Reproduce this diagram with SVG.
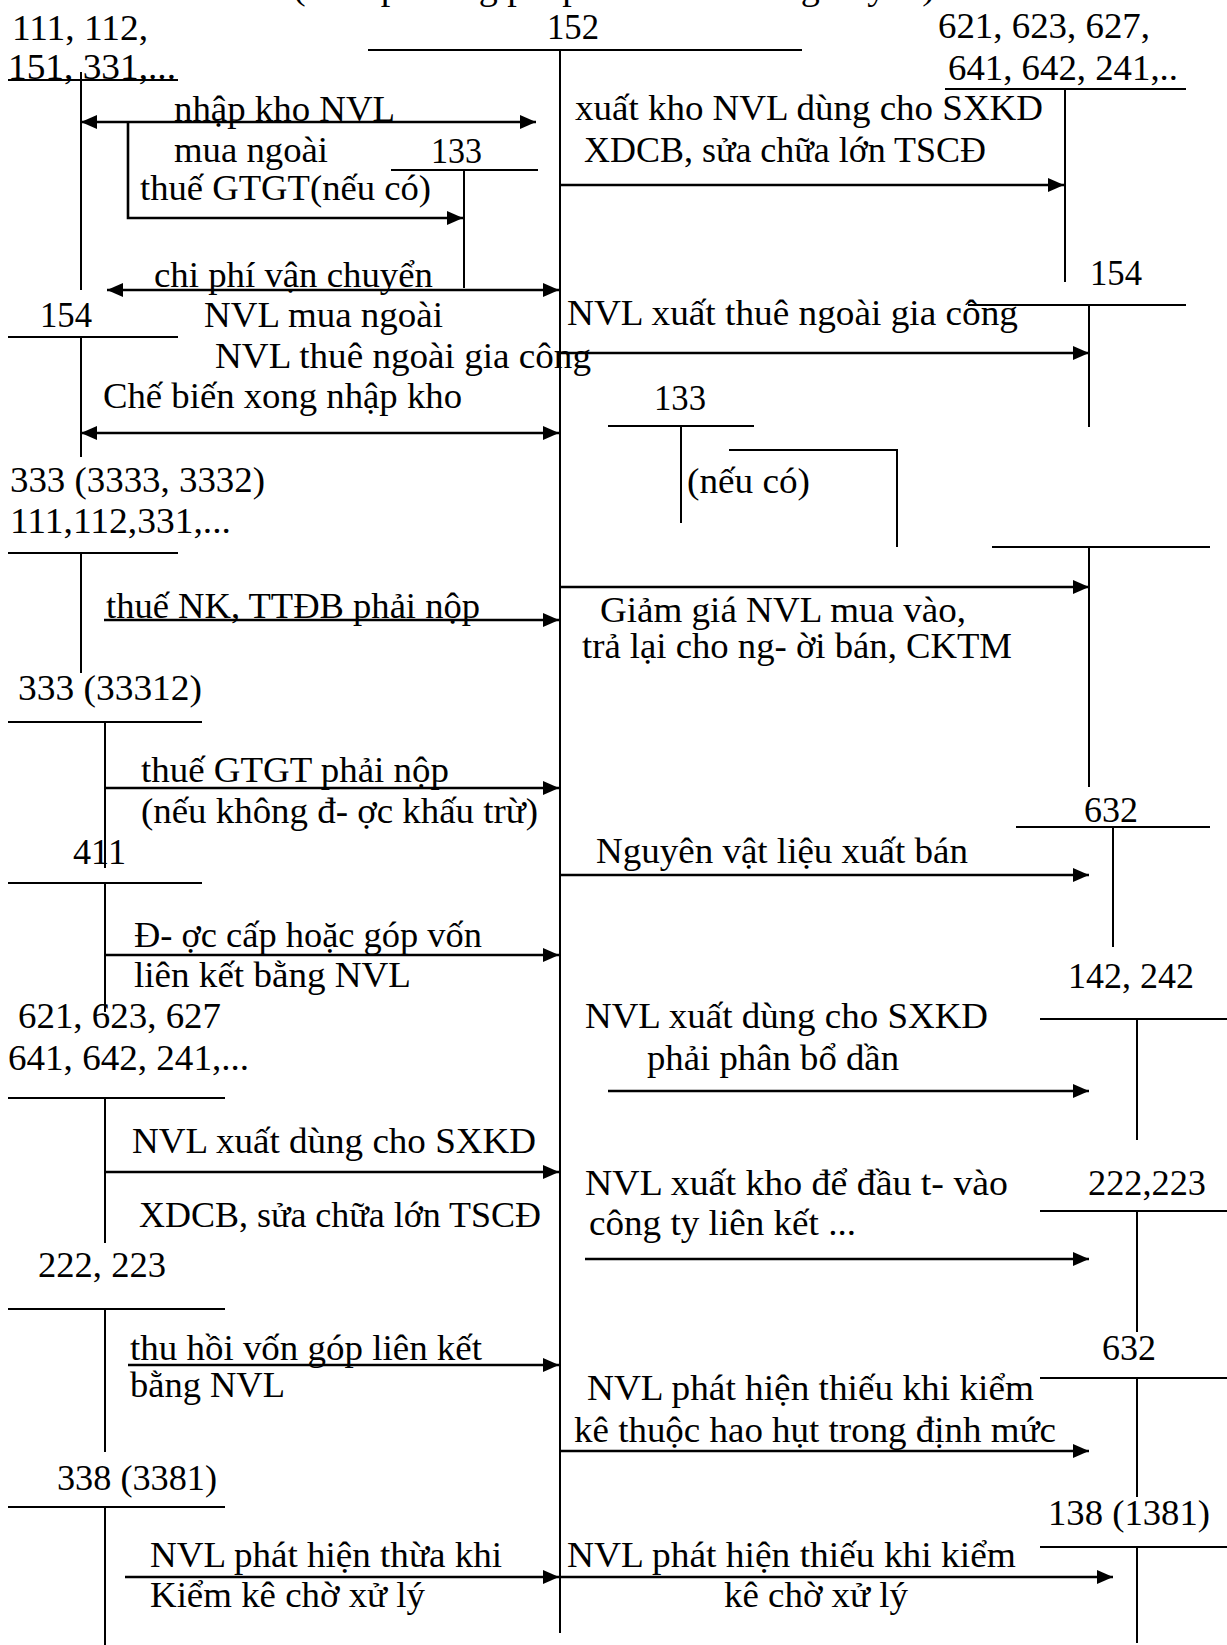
<svg xmlns="http://www.w3.org/2000/svg" width="1227" height="1645" viewBox="0 0 1227 1645">
<defs>
<style>
text{font-family:"Liberation Serif","Times New Roman",serif;font-size:36px;fill:#000}
.t{stroke:#000;stroke-width:2;fill:none}
.a{stroke:#000;stroke-width:2.6;fill:none;marker-end:url(#ah)}
.d{stroke:#000;stroke-width:2.6;fill:none;marker-end:url(#ah);marker-start:url(#ah)}
</style>
<marker id="ah" markerUnits="userSpaceOnUse" markerWidth="16" markerHeight="14" refX="16" refY="7" orient="auto-start-reverse"><path d="M0,0 L16,7 L0,14 Z" fill="#000"/></marker>
</defs>
<rect x="0" y="0" width="1227" height="1645" fill="#fff"/>
<text x="293" y="-1" textLength="642" lengthAdjust="spacingAndGlyphs">(theo phương pháp kê khai thường xuyên)</text>

<g id="acc-111-112">
<text x="12" y="40" textLength="136" lengthAdjust="spacingAndGlyphs">111, 112,</text>
<text x="8" y="79" textLength="168" lengthAdjust="spacingAndGlyphs">151, 331,...</text>
<path class="t" d="M8,80 H178 M81,72 V290"/>
</g>
<g id="acc-154-left">
<text x="40" y="327" textLength="52" lengthAdjust="spacingAndGlyphs">154</text>
<path class="t" d="M8,337 H178 M81,337 V457"/>
</g>
<g id="acc-333-3333">
<text x="10" y="492" textLength="255" lengthAdjust="spacingAndGlyphs">333 (3333, 3332)</text>
<text x="10" y="533" textLength="221" lengthAdjust="spacingAndGlyphs">111,112,331,...</text>
<path class="t" d="M8,553 H178 M81,553 V673"/>
</g>
<g id="acc-333-33312">
<text x="18" y="700" textLength="184" lengthAdjust="spacingAndGlyphs">333 (33312)</text>
<path class="t" d="M8,722 H202 M105,722 V868"/>
</g>
<g id="acc-411">
<text x="73" y="864" textLength="53" lengthAdjust="spacingAndGlyphs">411</text>
<path class="t" d="M8,883 H202 M105,883 V1012"/>
</g>
<g id="acc-621-left">
<text x="18" y="1028" textLength="203" lengthAdjust="spacingAndGlyphs">621, 623, 627</text>
<text x="8" y="1070" textLength="241" lengthAdjust="spacingAndGlyphs">641, 642, 241,...</text>
<path class="t" d="M8,1098 H225 M105,1098 V1243"/>
</g>
<g id="acc-222-left">
<text x="38" y="1277" textLength="128" lengthAdjust="spacingAndGlyphs">222, 223</text>
<path class="t" d="M8,1309 H225 M105,1309 V1452"/>
</g>
<g id="acc-338">
<text x="57" y="1490" textLength="160" lengthAdjust="spacingAndGlyphs">338 (3381)</text>
<path class="t" d="M8,1507 H225 M105,1507 V1645"/>
</g>

<g id="acc-152">
<text x="547" y="39" textLength="52" lengthAdjust="spacingAndGlyphs">152</text>
<path class="t" d="M368,50 H802 M560,50 V1633"/>
</g>
<g id="acc-133-a">
<text x="431" y="163" textLength="51" lengthAdjust="spacingAndGlyphs">133</text>
<path class="t" d="M391,170 H538 M464,170 V288"/>
</g>
<g id="acc-133-b">
<text x="654" y="410" textLength="52" lengthAdjust="spacingAndGlyphs">133</text>
<text x="687" y="493" textLength="123" lengthAdjust="spacingAndGlyphs">(nếu có)</text>
<path class="t" d="M608,426 H754 M681,426 V523 M729,450 H897 V547"/>
</g>

<g id="acc-621-right">
<text x="938" y="38" textLength="212" lengthAdjust="spacingAndGlyphs">621, 623, 627,</text>
<text x="948" y="80" textLength="230" lengthAdjust="spacingAndGlyphs">641, 642, 241,..</text>
<path class="t" d="M945,89 H1186 M1065,89 V282"/>
</g>
<g id="acc-154-right">
<text x="1090" y="285" textLength="52" lengthAdjust="spacingAndGlyphs">154</text>
<path class="t" d="M968,305 H1186 M1089,305 V427"/>
</g>
<g id="acc-331-right">
<path class="t" d="M992,547 H1210 M1089,547 V787"/>
</g>
<g id="acc-632-a">
<text x="1084" y="822" textLength="54" lengthAdjust="spacingAndGlyphs">632</text>
<path class="t" d="M1016,827 H1210 M1113,827 V947"/>
</g>
<g id="acc-142-242">
<text x="1068" y="988" textLength="126" lengthAdjust="spacingAndGlyphs">142, 242</text>
<path class="t" d="M1040,1019 H1227 M1137,1019 V1140"/>
</g>
<g id="acc-222-right">
<text x="1088" y="1195" textLength="118" lengthAdjust="spacingAndGlyphs">222,223</text>
<path class="t" d="M1040,1211 H1227 M1137,1211 V1332"/>
</g>
<g id="acc-632-b">
<text x="1102" y="1360" textLength="54" lengthAdjust="spacingAndGlyphs">632</text>
<path class="t" d="M1040,1378 H1227 M1137,1378 V1497"/>
</g>
<g id="acc-138">
<text x="1048" y="1525" textLength="162" lengthAdjust="spacingAndGlyphs">138 (1381)</text>
<path class="t" d="M1040,1547 H1227 M1137,1547 V1643"/>
</g>

<g id="connectors">
<path class="d" d="M81,122 H536"/>
<path class="a" d="M128,122 V218 H463"/>
<path class="d" d="M107,290 H559"/>
<path class="a" d="M560,185 H1064"/>
<path class="a" d="M561,353 H1089"/>
<path class="d" d="M81,433 H559"/>
<path class="a" d="M104,620 H559"/>
<path class="a" d="M561,587 H1089"/>
<path class="a" d="M105,788 H559"/>
<path class="a" d="M561,875 H1089"/>
<path class="a" d="M105,955 H559"/>
<path class="a" d="M608,1091 H1089"/>
<path class="a" d="M105,1172 H559"/>
<path class="a" d="M585,1259 H1089"/>
<path class="a" d="M128,1365 H559"/>
<path class="a" d="M561,1451 H1089"/>
<path class="a" d="M125,1577 H559"/>
<path class="a" d="M561,1577 H1113"/>
</g>

<g id="labels">
<text x="174" y="121" textLength="221" lengthAdjust="spacingAndGlyphs">nhập kho NVL</text>
<text x="174" y="162" textLength="154" lengthAdjust="spacingAndGlyphs">mua ngoài</text>
<text x="140" y="200" textLength="291" lengthAdjust="spacingAndGlyphs">thuế GTGT(nếu có)</text>
<text x="154" y="287" textLength="279" lengthAdjust="spacingAndGlyphs">chi phí vận chuyển</text>
<text x="575" y="120" textLength="468" lengthAdjust="spacingAndGlyphs">xuất kho NVL dùng cho SXKD</text>
<text x="584" y="162" textLength="402" lengthAdjust="spacingAndGlyphs">XDCB, sửa chữa lớn TSCĐ</text>
<text x="204" y="327" textLength="239" lengthAdjust="spacingAndGlyphs">NVL mua ngoài</text>
<text x="567" y="325" textLength="451" lengthAdjust="spacingAndGlyphs">NVL xuất thuê ngoài gia công</text>
<text x="215" y="368" textLength="376" lengthAdjust="spacingAndGlyphs">NVL thuê ngoài gia công</text>
<text x="103" y="408" textLength="359" lengthAdjust="spacingAndGlyphs">Chế biến xong nhập kho</text>
<text x="106" y="618" textLength="374" lengthAdjust="spacingAndGlyphs">thuế NK, TTĐB phải nộp</text>
<text x="600" y="622" textLength="366" lengthAdjust="spacingAndGlyphs">Giảm giá NVL mua vào,</text>
<text x="582" y="658" textLength="430" lengthAdjust="spacingAndGlyphs">trả lại cho ng- ời bán, CKTM</text>
<text x="141" y="782" textLength="308" lengthAdjust="spacingAndGlyphs">thuế GTGT phải nộp</text>
<text x="141" y="823" textLength="397" lengthAdjust="spacingAndGlyphs">(nếu không đ- ợc khấu trừ)</text>
<text x="596" y="863" textLength="372" lengthAdjust="spacingAndGlyphs">Nguyên vật liệu xuất bán</text>
<text x="134" y="947" textLength="348" lengthAdjust="spacingAndGlyphs">Đ- ợc cấp hoặc góp vốn</text>
<text x="134" y="987" textLength="277" lengthAdjust="spacingAndGlyphs">liên kết bằng NVL</text>
<text x="585" y="1028" textLength="403" lengthAdjust="spacingAndGlyphs">NVL xuất dùng cho SXKD</text>
<text x="647" y="1070" textLength="252" lengthAdjust="spacingAndGlyphs">phải phân bổ dần</text>
<text x="132" y="1153" textLength="404" lengthAdjust="spacingAndGlyphs">NVL xuất dùng cho SXKD</text>
<text x="139" y="1227" textLength="402" lengthAdjust="spacingAndGlyphs">XDCB, sửa chữa lớn TSCĐ</text>
<text x="585" y="1195" textLength="423" lengthAdjust="spacingAndGlyphs">NVL xuất kho để đầu t-  vào</text>
<text x="589" y="1235" textLength="267" lengthAdjust="spacingAndGlyphs">công ty liên kết ...</text>
<text x="130" y="1360" textLength="352" lengthAdjust="spacingAndGlyphs">thu hồi vốn góp liên kết</text>
<text x="130" y="1397" textLength="155" lengthAdjust="spacingAndGlyphs">bằng NVL</text>
<text x="587" y="1400" textLength="447" lengthAdjust="spacingAndGlyphs">NVL phát hiện thiếu khi kiểm</text>
<text x="574" y="1442" textLength="482" lengthAdjust="spacingAndGlyphs">kê thuộc hao hụt trong định mức</text>
<text x="150" y="1567" textLength="352" lengthAdjust="spacingAndGlyphs">NVL phát hiện thừa khi</text>
<text x="150" y="1607" textLength="275" lengthAdjust="spacingAndGlyphs">Kiểm kê chờ xử lý</text>
<text x="567" y="1567" textLength="449" lengthAdjust="spacingAndGlyphs">NVL phát hiện thiếu khi kiểm</text>
<text x="724" y="1607" textLength="184" lengthAdjust="spacingAndGlyphs">kê chờ xử lý</text>
</g>
</svg>
